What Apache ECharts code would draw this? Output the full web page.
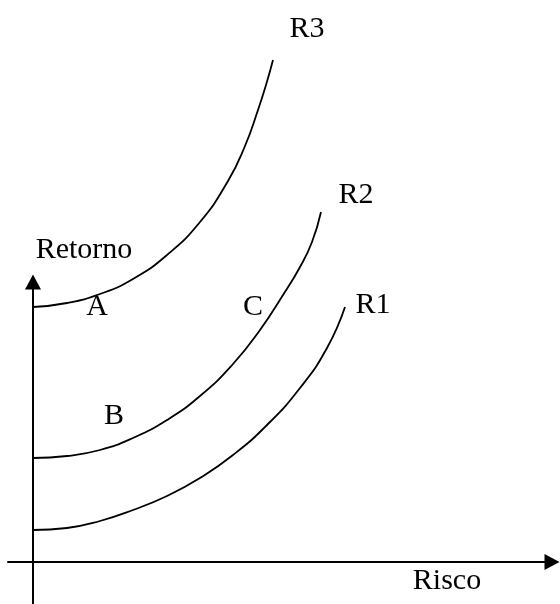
<!DOCTYPE html>
<html>
<head>
<meta charset="utf-8">
<script src="https://cdn.jsdelivr.net/npm/echarts@6/dist/echarts.min.js"></script>
<style>
  html, body { margin: 0; padding: 0; background: #fff; }
  #chart { width: 560px; height: 604px; }
</style>
</head>
<body>
<div id="chart"></div>
<script>
// curvas de indiferença: risco (x) e retorno (y)
const r1Risco = [0, 34, 67, 100, 134, 167, 200, 234, 267, 294, 312];
const r1Retorno = [32, 34, 41, 52, 66, 84, 107, 137, 174, 214, 255];
const r2Risco = [0, 34, 67, 100, 134, 167, 200, 227, 250, 267, 279, 288];
const r2Retorno = [104, 106, 112, 124, 142, 166, 198, 232, 267, 295, 320, 350];
const r3Risco = [0, 34, 67, 100, 134, 167, 195, 212, 225, 233, 240];
const r3Retorno = [255, 259, 268, 283, 307, 340, 381, 416, 452, 477, 502];

const curveNames = ["R1", "R2", "R3"];
const pointNames = ["A", "B", "C"];
const axisNames = ["Retorno", "Risco"];

const zip = (xs, ys) => xs.map((x, i) => [x, ys[i]]);
const curves = [zip(r1Risco, r1Retorno), zip(r2Risco, r2Retorno), zip(r3Risco, r3Retorno)];

const font = '30px "Liberation Serif", "Times New Roman", serif';
const text = (t, x, y) => ({
  type: "text",
  style: { text: t, x: x, y: y, font: font, fill: "#000", align: "center", verticalAlign: "middle" },
});

const myChart = echarts.init(document.getElementById("chart"));

const series = curves.map((data, i) => ({
  name: curveNames[i],
  type: "line",
  data: data,
  smooth: 0.5,
  symbol: "none",
  lineStyle: { color: "#000", width: 1.8 },
}));

// eixo do retorno com seta
series[0].markLine = {
  silent: true,
  symbol: ["none", "triangle"],
  symbolSize: [16, 15],
  label: { show: false },
  lineStyle: { color: "#000", width: 2, type: "solid" },
  data: [[{ coord: [0, -42] }, { coord: [0, 280] }]],
};

myChart.setOption({
  animation: false,
  grid: { left: 8, right: 8, top: 0, bottom: 0, outerBoundsMode: "none" },
  xAxis: {
    type: "value",
    min: -25,
    max: 519,
    axisLine: {
      show: true,
      onZero: true,
      symbol: ["none", "triangle"],
      symbolSize: [16, 15],
      lineStyle: { color: "#000", width: 2 },
    },
    axisTick: { show: false },
    axisLabel: { show: false },
    splitLine: { show: false },
  },
  yAxis: {
    type: "value",
    min: -42,
    max: 562,
    axisLine: { show: false },
    axisTick: { show: false },
    axisLabel: { show: false },
    splitLine: { show: false },
  },
  graphic: [
    text(curveNames[2], 307, 29),
    text(curveNames[1], 356, 195),
    text(curveNames[0], 373, 305),
    text(pointNames[0], 97, 307),
    text(pointNames[1], 114, 416),
    text(pointNames[2], 253, 307),
    text(axisNames[0], 84, 250),
    text(axisNames[1], 447, 581),
  ],
  series: series,
});
</script>
</body>
</html>
